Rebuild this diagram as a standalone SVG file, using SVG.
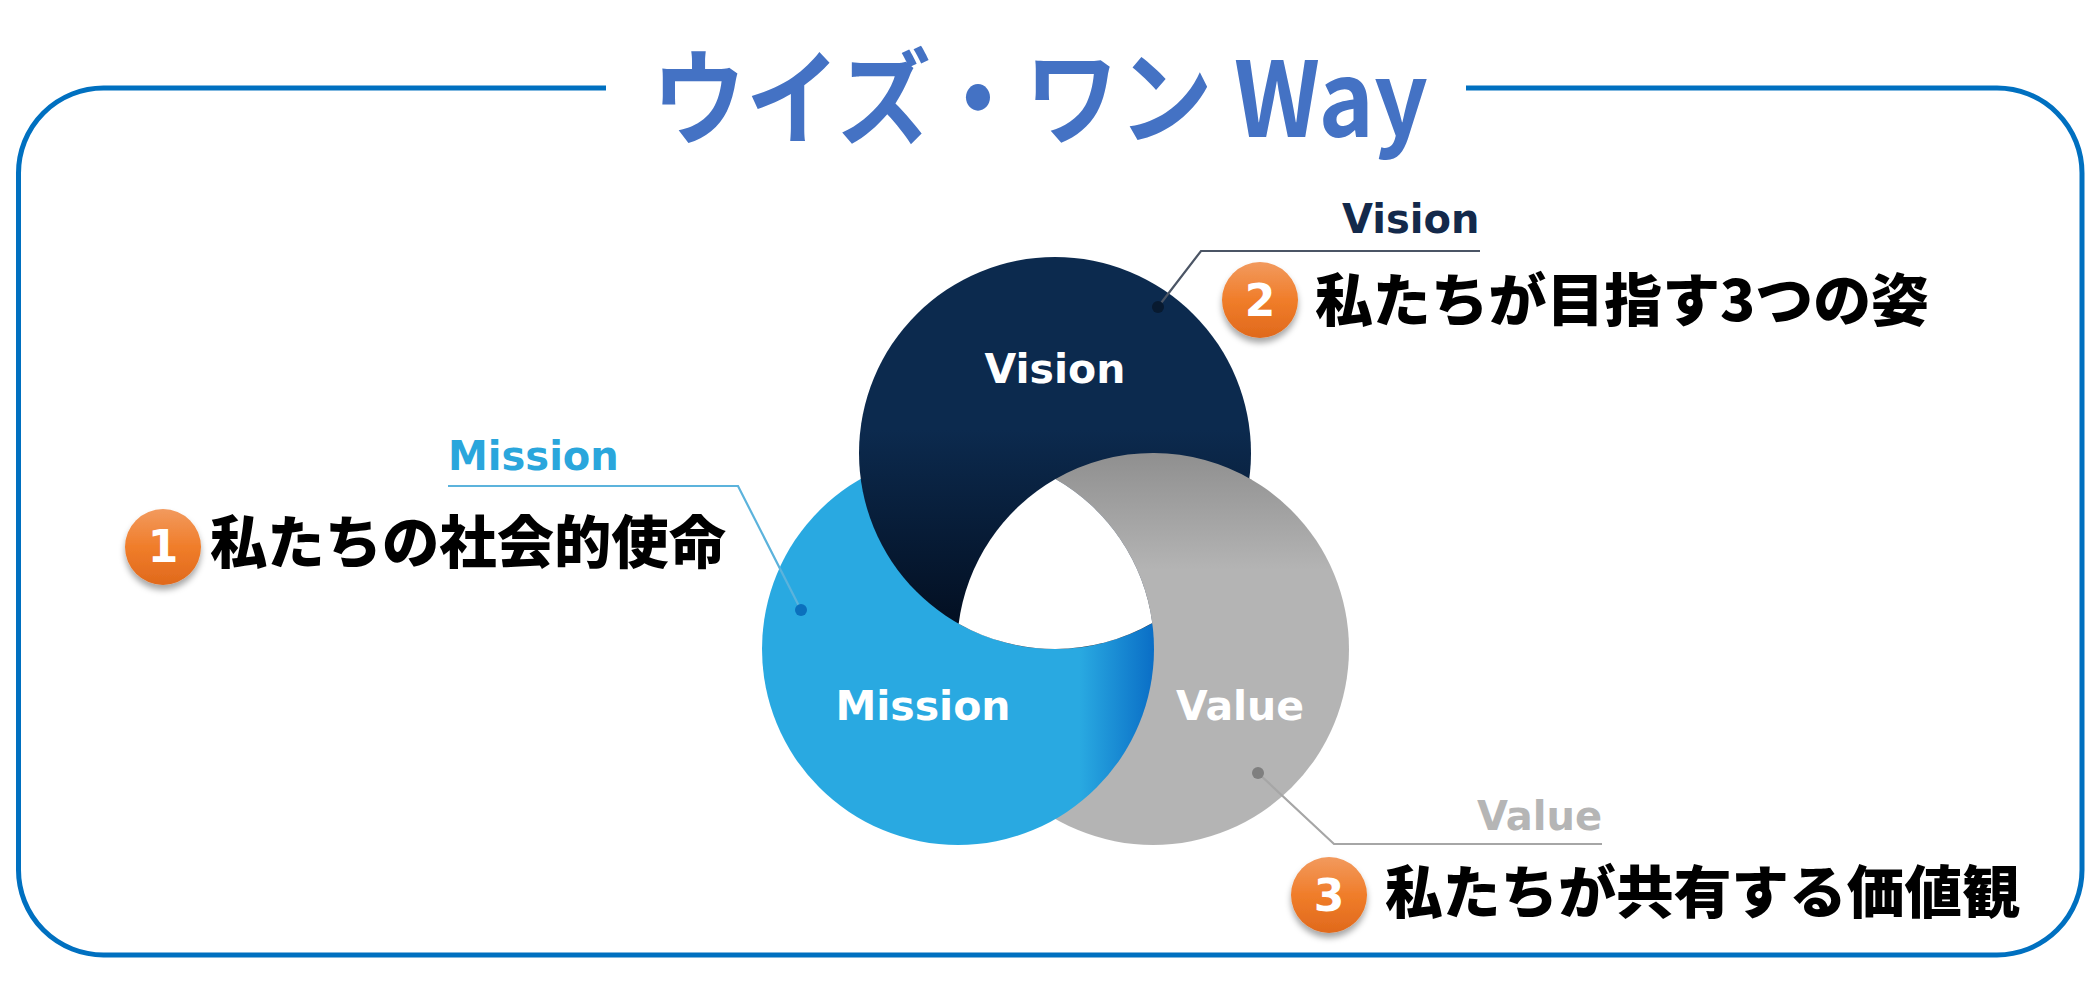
<svg xmlns="http://www.w3.org/2000/svg" width="2099" height="987" viewBox="0 0 2099 987">
<style>
.lbl{font-family:"DejaVu Sans","Verdana",sans-serif;font-weight:bold;font-size:41px;text-anchor:middle;fill:#fff}
.jp{font-family:"Noto Sans CJK JP","Noto Sans CJK SC",sans-serif;font-weight:900;font-size:57px;fill:#000}
.num{font-family:"DejaVu Sans",sans-serif;font-weight:bold;font-size:44px;fill:#fff;text-anchor:middle}
.tag{font-family:"DejaVu Sans","Verdana",sans-serif;font-weight:bold;font-size:40px}
.lead{fill:none;stroke-width:2.2}
.badge{fill:url(#gBadge);filter:url(#shadow)}
</style>
<defs>
<linearGradient id="gVision" gradientUnits="userSpaceOnUse" x1="0" y1="430" x2="0" y2="640">
<stop offset="0" stop-color="#0c2a4e"/><stop offset="1" stop-color="#020d1e"/>
</linearGradient>
<linearGradient id="gValue" gradientUnits="userSpaceOnUse" x1="0" y1="453" x2="0" y2="570">
<stop offset="0" stop-color="#8f8f8f"/><stop offset="1" stop-color="#b4b4b4"/>
</linearGradient>
<linearGradient id="gMission" gradientUnits="userSpaceOnUse" x1="1080" y1="0" x2="1154" y2="0">
<stop offset="0" stop-color="#29a9e1"/><stop offset="1" stop-color="#0a6ec6"/>
</linearGradient>
<linearGradient id="gBadge" x1="0" y1="0" x2="0" y2="1">
<stop offset="0" stop-color="#f29a5e"/><stop offset="0.5" stop-color="#f07d2a"/><stop offset="1" stop-color="#e0691c"/>
</linearGradient>
<filter id="shadow" x="-30%" y="-30%" width="160%" height="170%">
<feDropShadow dx="0" dy="5" stdDeviation="3" flood-color="#000" flood-opacity="0.35"/>
</filter>
</defs>
<rect width="2099" height="987" fill="#fff"/>
<g id="frame">
<path d="M606 88 H103.5 A85 85 0 0 0 18.5 173 V870 A85 85 0 0 0 103.5 955 H1997 A85 85 0 0 0 2082 870 V173 A85 85 0 0 0 1997 88 H1466" fill="none" stroke="#0070c0" stroke-width="5"/>
</g>
<g id="title">
<text x="652" y="137" font-family="'Noto Sans CJK JP','Noto Sans CJK SC',sans-serif" font-weight="bold" font-size="104" fill="#4472c4" textLength="776" lengthAdjust="spacingAndGlyphs">ウイズ・ワン Way</text>
</g>
<g id="venn">
<circle id="value-circle" cx="1153" cy="649" r="196" fill="url(#gValue)"/>
<circle id="mission-circle" cx="958" cy="649" r="196" fill="url(#gMission)"/>
<circle id="vision-circle" cx="1055" cy="453" r="196" fill="url(#gVision)"/>
<path id="value-over-vision" d="M1055.5,479 A196,196 0 0 1 1152.3,623.1 L1153.8,625.7 A199,199 0 0 0 1252.17,479.93 A196,196 0 0 0 1055.5,479 Z" fill="url(#gValue)"/>
<path id="center-hole" d="M958.65,623.68 A196,196 0 0 1 1055.5,479 A196,196 0 0 1 1152.3,623.1 A196,196 0 0 1 958.65,623.68 Z" fill="#fff"/>
<text class="lbl" x="1055" y="383">Vision</text>
<text class="lbl" x="923" y="720">Mission</text>
<text class="lbl" x="1240" y="720">Value</text>
</g>
<g id="connectors">
<polyline class="lead" points="1158,307 1201,251 1480,251" stroke="#4b5565"/>
<polyline class="lead" points="448,486 738,486 801,610" stroke="#5cb3dc"/>
<polyline class="lead" points="1258,773 1334,844 1602,844" stroke="#a6a6a6"/>
<circle cx="1158" cy="307" r="6" fill="#081a30"/>
<circle cx="801" cy="610" r="6" fill="#0b70bd"/>
<circle cx="1258" cy="773" r="6" fill="#7f7f7f"/>
</g>
<g id="mission-label">
<text class="tag" x="448" y="470" fill="#2aa6dc">Mission</text>
<circle class="badge" cx="163" cy="547" r="38"/>
<text class="num" x="163" y="562">1</text>
<text class="jp" x="210" y="563" textLength="516" lengthAdjust="spacingAndGlyphs">私たちの社会的使命</text>
</g>
<g id="vision-label">
<text class="tag" x="1342" y="233" fill="#13294b">Vision</text>
<circle class="badge" cx="1260" cy="300" r="38"/>
<text class="num" x="1260" y="316">2</text>
<text class="jp" x="1315" y="321" textLength="614" lengthAdjust="spacingAndGlyphs">私たちが目指す3つの姿</text>
</g>
<g id="value-label">
<text class="tag" x="1477" y="830" fill="#b5b5b5">Value</text>
<circle class="badge" cx="1329" cy="895" r="38"/>
<text class="num" x="1329" y="911">3</text>
<text class="jp" x="1385" y="913" textLength="635" lengthAdjust="spacingAndGlyphs">私たちが共有する価値観</text>
</g>
</svg>
